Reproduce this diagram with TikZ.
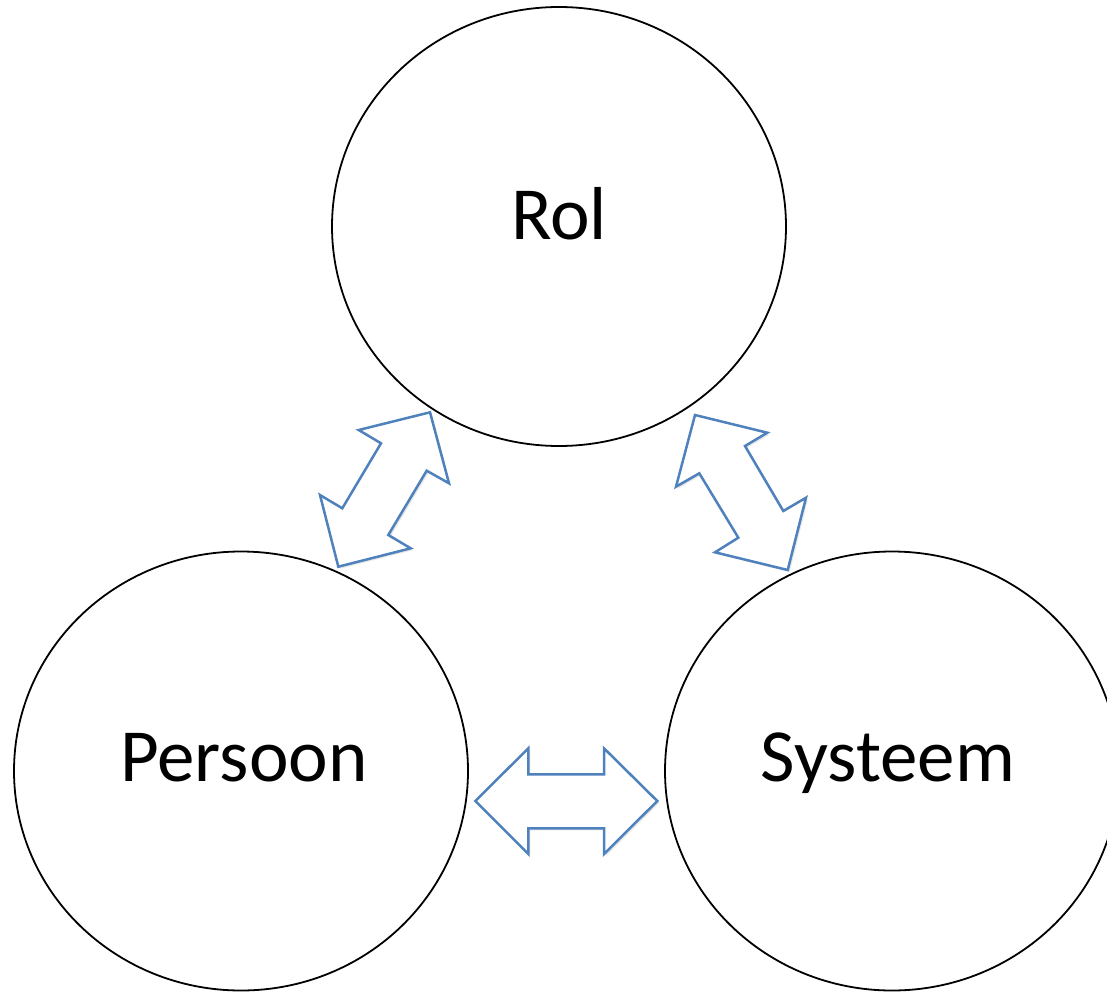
\documentclass[tikz,border=0pt]{standalone}
\usepackage{fontspec}
\setmainfont{Carlito}
\usetikzlibrary{shapes.geometric,shadows}
\definecolor{arrowblue}{RGB}{79,129,189}
\tikzset{
  bubble/.style={draw=black, line width=1.8pt, ellipse, minimum width=454pt, minimum height=439pt, inner sep=0pt},
  bubbletext/.style={font=\fontsize{75}{90}\selectfont, anchor=base, inner sep=0pt},
  blockarrow/.style={draw=arrowblue, line width=2.5pt, fill=white, line join=miter,
    drop shadow={opacity=0.18, shadow xshift=2pt, shadow yshift=-2pt}}
}
\begin{document}
\begin{tikzpicture}[x=1pt,y=-1pt]
\useasboundingbox (0,0) rectangle (1107,992);
\begin{scope}
\clip (0,0) rectangle (1107,992);
\node[bubble] (rol) at (559,226.5) {};
\node[bubble] (persoon) at (241,771) {};
\node[bubble] (systeem) at (892,771) {};
\end{scope}
\node[bubbletext] (rolt) at (559,240) {Rol};
\node[bubbletext] (persoont) at (244,781) {Persoon};
\node[bubbletext] (systeemt) at (888,781) {Systeem};
% left arrow (Persoon - Rol)
\path[blockarrow] (430,412.3) -- (449,483.3) -- (426.7,470.7) -- (388.3,535) -- (410.7,548.3)
  -- (338.3,566.7) -- (320,495) -- (342.3,508.3) -- (381,443.3) -- (358.7,430) -- cycle;
% right arrow (Rol - Systeem)
\path[blockarrow] (695,415) -- (767.3,432.7) -- (745,446) -- (783.3,511) -- (806,497.7)
  -- (787.7,570) -- (715,552.3) -- (738.3,537.7) -- (699.3,473.3) -- (676,486.7) -- cycle;
% bottom arrow (Persoon - Systeem)
\path[blockarrow] (475.3,801) -- (528.3,748.3) -- (528.3,774.3) -- (604,774.3) -- (604,748.3)
  -- (657.3,801) -- (604,854) -- (604,828.3) -- (528.3,828.3) -- (528.3,854) -- cycle;
\end{tikzpicture}
\end{document}
